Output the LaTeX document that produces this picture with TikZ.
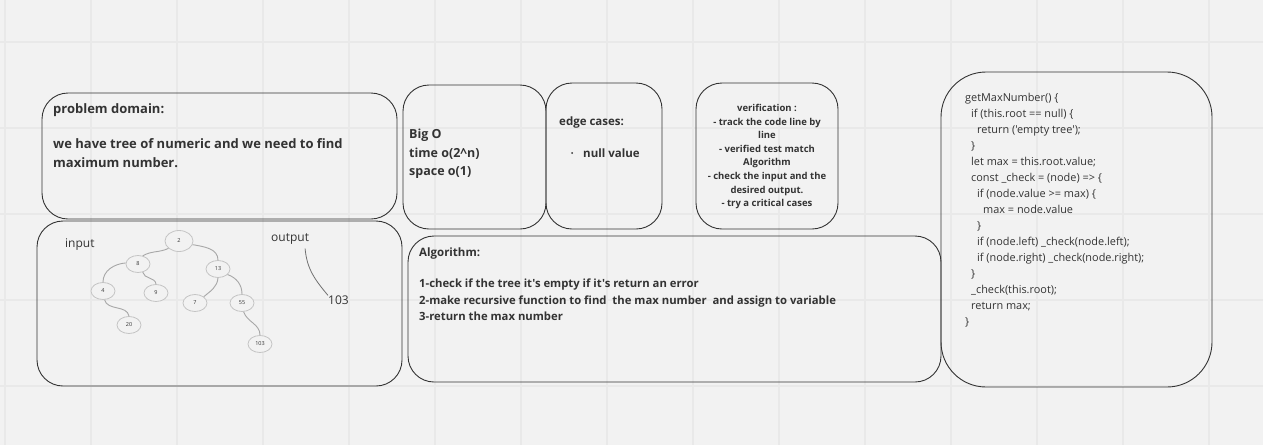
\documentclass[tikz,border=0pt]{standalone}
\usepackage{fontspec}
\setmainfont{Open Sans}[Ligatures=TeXOff]
\usetikzlibrary{shapes.geometric}
\definecolor{boardbg}{HTML}{F2F2F2}
\definecolor{boardgrid}{HTML}{E9E9E9}
\definecolor{inkgrey}{HTML}{333333}
\definecolor{treegrey}{HTML}{C4C4C4}
\tikzset{
  panel/.style={draw=inkgrey, line width=0.9pt, rounded corners=26pt},
  gridline/.style={draw=boardgrid, line width=1.1pt},
  txt/.style={inner sep=0pt, text=inkgrey, anchor=west, align=left},
  treenode/.style={ellipse, draw=treegrey, fill=boardbg, line width=0.8pt, inner sep=0pt,
    minimum width=24pt, minimum height=17pt, text=inkgrey, font=\fontsize{5.5}{6}\selectfont},
  treeedge/.style={draw=treegrey!85!black, line width=0.9pt},
}
\begin{document}
\begin{tikzpicture}[x=1pt, y=-1pt]
  \fill[boardbg] (0,0) rectangle (1263,445);
  \useasboundingbox (0,0) rectangle (1263,445);
  % board grid
  \foreach \gx in {5,91,...,1263} \draw[gridline] (\gx,0) -- (\gx,445);
  \foreach \gy in {42,128,...,445} \draw[gridline] (0,\gy) -- (1263,\gy);

  % panels
  \draw[panel] (42,93) rectangle (397,219);
  \draw[panel] (37,221) rectangle (402,386);
  \draw[panel] (403,85) rectangle (546,229);
  \draw[panel] (546,83) rectangle (662,229);
  \draw[panel] (696,83) rectangle (838,229);
  \draw[panel] (408,236) rectangle (941,382);
  \draw[panel, rounded corners=45pt] (941,72) rectangle (1212,387);

  % problem domain
  \node[txt, font=\bfseries\fontsize{13}{19}\selectfont] (domain) at (53,110) {problem domain:};
  \node[txt, font=\bfseries\fontsize{13}{19}\selectfont, anchor=north west] (domaintxt) at (53,138)
    {we have tree of numeric and we need to find\\maximum number.};

  % big O
  \node[txt, font=\bfseries\fontsize{12.5}{18.5}\selectfont, anchor=north west] (bigo) at (409,129)
    {Big O\\time o(2\^{}n)\\space o(1)};

  % edge cases
  \node[txt, font=\bfseries\fontsize{11.5}{16}\selectfont] (edge) at (559,123) {edge cases:};
  \node[txt, font=\bfseries\fontsize{11.5}{16}\selectfont] (edgeitem) at (583,153) {null value};
  \fill[inkgrey] (572,153) circle (1pt);

  % verification
  \node[txt, anchor=north, align=center, font=\bfseries\fontsize{9.5}{13.6}\selectfont] (verify) at (767,104)
    {verification :\\- track the code line by\\line\\- verified test match\\Algorithm\\- check the input and the\\desired output.\\- try a critical cases};

  % algorithm
  \node[txt, font=\bfseries\fontsize{11.5}{16.5}\selectfont] (algo) at (419,254) {Algorithm:};
  \node[txt, font=\bfseries\fontsize{11.3}{16.5}\selectfont, anchor=north west] (algosteps) at (419,279)
    {1-check if the tree it's empty if it's return an error\\
     2-make recursive function to find\ \ the max number\ \ and assign to variable\\
     3-return the max number};

  % code
  \node[txt, anchor=north west, font=\fontsize{10.9}{16}\selectfont] (code) at (965,93)
    {getMaxNumber() \{\\
     \hspace*{6pt}if (this.root == null) \{\\
     \hspace*{12pt}return ('empty tree');\\
     \hspace*{6pt}\}\\
     \hspace*{6pt}let max = this.root.value;\\
     \hspace*{6pt}const \_check = (node) => \{\\
     \hspace*{12pt}if (node.value >= max) \{\\
     \hspace*{18pt}max = node.value\\
     \hspace*{12pt}\}\\
     \hspace*{12pt}if (node.left) \_check(node.left);\\
     \hspace*{12pt}if (node.right) \_check(node.right);\\
     \hspace*{6pt}\}\\
     \hspace*{6pt}\_check(this.root);\\
     \hspace*{6pt}return max;\\
     \}};

  % input / output
  \node[txt, font=\fontsize{12}{14}\selectfont] (inlbl) at (65,245) {input};
  \node[txt, font=\fontsize{12}{14}\selectfont] (outlbl) at (271,239) {output};
  \node[txt, font=\fontsize{12}{14}\selectfont] (outval) at (328,300) {103};
  \draw[inkgrey!70, line width=0.8pt] (outlbl.south) ++(15,4) coordinate (outtail)
    to[out=-85,in=130] (outval.north west);

  % tree
  \node[treenode, minimum width=28pt, minimum height=21pt] (n2) at (179,241) {2};
  \node[treenode] (n8) at (138,264) {8};
  \node[treenode] (n13) at (218,269) {13};
  \node[treenode] (n4) at (103,291) {4};
  \node[treenode] (n9) at (156,293) {9};
  \node[treenode] (n7) at (195,303) {7};
  \node[treenode] (n55) at (242,303) {55};
  \node[treenode] (n20) at (129,325) {20};
  \node[treenode] (n103) at (260,344) {103};
  \draw[treeedge] (n2.215) to[out=205,in=30] (n8.60);
  \draw[treeedge] (n2.-15) to[out=-10,in=90] (n13.north);
  \draw[treeedge] (n8.175) to[out=185,in=90] (n4.north);
  \draw[treeedge] (n8.-60) to[out=-80,in=95] (n9.north);
  \draw[treeedge] (n4.-80) to[out=-75,in=100] (n20.north);
  \draw[treeedge] (n13.-90) to[out=-95,in=40] (n7.north east);
  \draw[treeedge] (n13.-30) to[out=-20,in=90] (n55.north);
  \draw[treeedge] (n55.-80) to[out=-70,in=90] (n103.north);
\end{tikzpicture}
\end{document}
